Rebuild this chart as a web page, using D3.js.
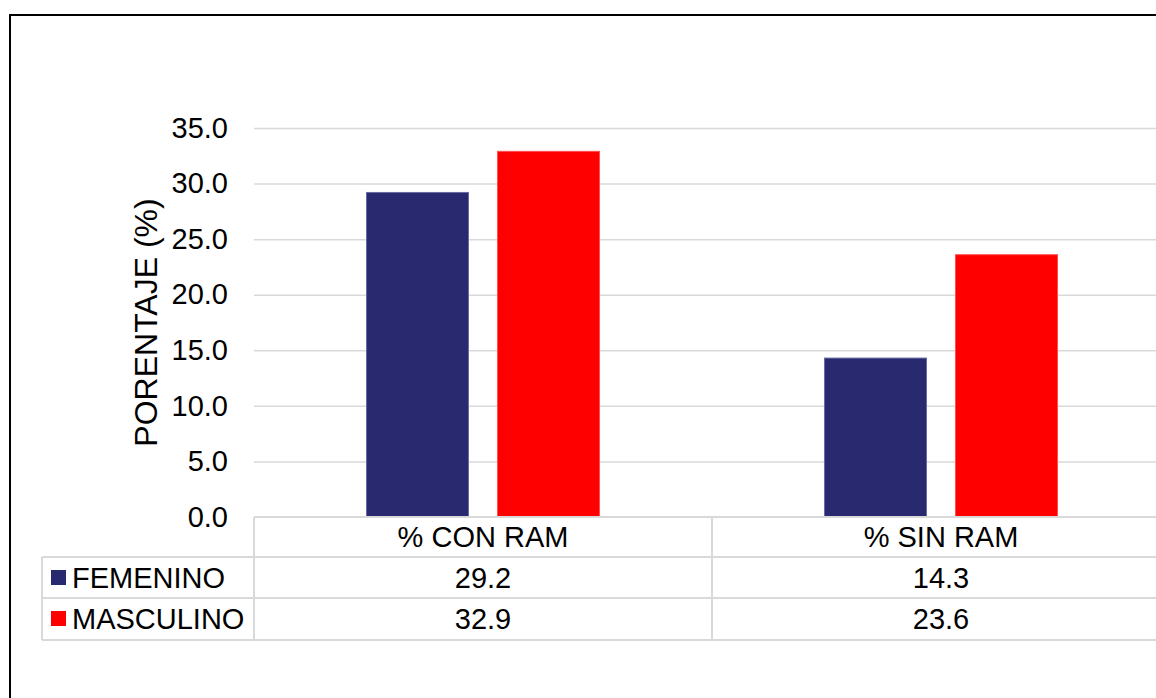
<!DOCTYPE html>
<html>
<head>
<meta charset="utf-8">
<script src="https://cdn.jsdelivr.net/npm/d3@7"></script>
<style>
  html, body { margin: 0; padding: 0; background: #fff; }
  svg { display: block; font-family: Arial, "Liberation Sans", sans-serif; }
</style>
</head>
<body>
<svg id="chart" width="1156" height="698"></svg>
<script>
// Chart data
const categories = ["% CON RAM", "% SIN RAM"];
const seriesNames = ["FEMENINO", "MASCULINO"];
const femenino = [29.2, 14.3];
const masculino = [32.9, 23.6];
const yTicks = [0, 5, 10, 15, 20, 25, 30, 35];
const seriesColors = ["#29296f", "#ff0000"];
const seriesStroke = ["#6b6ba3", "#ff5050"];
const yTitle = "PORENTAJE (%)";

const values = [femenino, masculino];

const svg = d3.select("#chart");
const W = 1156, H = 698;
const fontSize = 29;
const gridColor = "#d9d9d9";

// Outer chart border
svg.append("rect")
  .attr("x", 10).attr("y", 15)
  .attr("width", W + 20).attr("height", H + 20)
  .attr("fill", "#fff").attr("stroke", "#000").attr("stroke-width", 2);

// Plot geometry
const plotLeft = 254, plotRight = 1170, plotTop = 128, plotBottom = 517;
const rowH = 41;
const tableLeft = 42;

const x = d3.scaleBand().domain(categories).range([plotLeft, plotRight]);
const bw = x.bandwidth();
const xSub = d3.scaleBand().domain(seriesNames)
  .range([bw * 0.2456, bw * 0.7544]).paddingInner(0.2214);
const y = d3.scaleLinear().domain([0, 35]).range([plotBottom, plotTop]);

// Gridlines and y tick labels
const yAxis = d3.axisLeft(y)
  .tickValues(yTicks)
  .tickSize(-(plotRight - plotLeft))
  .tickPadding(26)
  .tickFormat(d3.format(".1f"));

const gAxis = svg.append("g")
  .attr("transform", `translate(${plotLeft},0)`)
  .call(yAxis);
gAxis.select(".domain").remove();
gAxis.selectAll(".tick line")
  .attr("stroke", gridColor).attr("stroke-width", 1.5)
  .attr("display", d => d === 0 ? "none" : null);
gAxis.selectAll(".tick text")
  .attr("font-size", fontSize).attr("fill", "#000")
  .attr("font-family", "Arial, 'Liberation Sans', sans-serif");

// Bars
const groups = svg.append("g").selectAll("g")
  .data(categories)
  .join("g")
  .attr("transform", d => `translate(${x(d)},0)`);

groups.selectAll("rect")
  .data((c, ci) => seriesNames.map((s, si) => ({ s, si, v: values[si][ci] })))
  .join("rect")
  .attr("x", d => xSub(d.s))
  .attr("y", d => y(d.v))
  .attr("width", xSub.bandwidth())
  .attr("height", d => y(0) - y(d.v))
  .attr("fill", d => seriesColors[d.si])
  .attr("stroke", d => seriesStroke[d.si])
  .attr("stroke-width", 1);

// Y axis title
svg.append("text")
  .attr("transform", `translate(157,${(plotTop + plotBottom) / 2}) rotate(-90)`)
  .attr("text-anchor", "middle")
  .attr("font-size", 32)
  .attr("fill", "#000")
  .text(yTitle);

// Data table beneath the plot
const table = svg.append("g");
const line = (x1, y1, x2, y2) => table.append("line")
  .attr("x1", x1).attr("y1", y1).attr("x2", x2).attr("y2", y2)
  .attr("stroke", gridColor).attr("stroke-width", 2);

const r0 = plotBottom, r1 = r0 + 40, r2 = r1 + rowH, r3 = r2 + rowH + 1;
line(plotLeft, r0, plotRight, r0);
line(tableLeft, r1, plotRight, r1);
line(tableLeft, r2, plotRight, r2);
line(tableLeft, r3, plotRight, r3);
line(tableLeft, r1, tableLeft, r3);
[plotLeft, ...categories.map(c => x(c) + bw)].forEach(xx => line(xx, r0, xx, r3));

// Header row: category names
table.selectAll("text.cat")
  .data(categories)
  .join("text")
  .attr("class", "cat")
  .attr("x", d => x(d) + bw / 2)
  .attr("y", (r0 + r1) / 2)
  .attr("dy", "0.36em")
  .attr("text-anchor", "middle")
  .attr("font-size", fontSize)
  .text(d => d);

// Series rows: legend key, name, values
const rowTops = [r1, r2];
seriesNames.forEach((s, si) => {
  const cy = (rowTops[si] + rowTops[si] + rowH) / 2;
  table.append("rect")
    .attr("x", 51).attr("y", cy - 7.5)
    .attr("width", 15).attr("height", 15)
    .attr("fill", seriesColors[si]);
  table.append("text")
    .attr("x", 72).attr("y", cy).attr("dy", "0.36em")
    .attr("font-size", fontSize)
    .text(s);
  categories.forEach((c, ci) => {
    table.append("text")
      .attr("x", x(c) + bw / 2).attr("y", cy).attr("dy", "0.36em")
      .attr("text-anchor", "middle")
      .attr("font-size", fontSize)
      .text(d3.format(".1f")(values[si][ci]));
  });
});
</script>
</body>
</html>
